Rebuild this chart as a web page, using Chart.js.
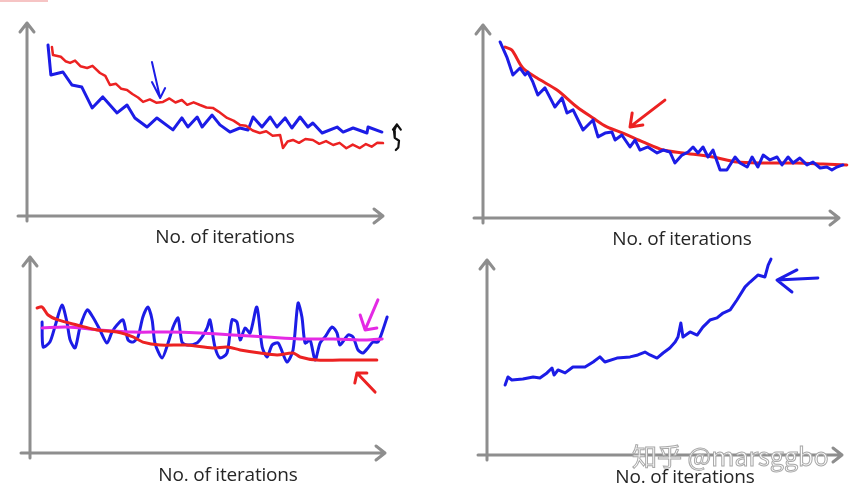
<!DOCTYPE html>
<html>
<head>
<meta charset="utf-8">
<title>Learning curves</title>
<script src="https://cdn.jsdelivr.net/npm/chart.js@4.4.1/dist/chart.umd.min.js"></script>
<style>
  html, body { margin: 0; padding: 0; background: #fff; }
  #page { position: relative; width: 857px; height: 497px; overflow: hidden; }
  canvas { position: absolute; }
  .xlabel {
    position: absolute; width: 220px; margin-left: -110px; text-align: center;
    font-family: "Open Sans", sans-serif; font-size: 19px; color: #262626;
    line-height: 22px; white-space: nowrap; letter-spacing: -0.2px;
  }
  #mark {
    position: absolute; left: 632px; top: 440px; z-index: 5;
    font-family: "Noto Sans CJK SC", sans-serif; font-size: 25px; line-height: 30px;
    color: #fff; -webkit-text-stroke: 1px #a8a8a8; white-space: nowrap;
  }
  #corner { position: absolute; left: 0; top: 0; width: 48px; height: 2px; background: #f6c4c4; }
</style>
</head>
<body>
<div id="page">
  <div id="corner"></div>
  <canvas id="c1" width="428" height="248" style="left:0;top:0"></canvas>
  <canvas id="c2" width="429" height="248" style="left:428px;top:0"></canvas>
  <canvas id="c3" width="428" height="249" style="left:0;top:248px"></canvas>
  <canvas id="c4" width="429" height="249" style="left:428px;top:248px"></canvas>
  <div class="xlabel" style="left:225px;top:225px">No. of iterations</div>
  <div class="xlabel" style="left:682px;top:227px">No. of iterations</div>
  <div class="xlabel" style="left:228px;top:463px">No. of iterations</div>
  <div class="xlabel" style="left:685px;top:465px">No. of iterations</div>
  <div id="mark">知乎 @marsggbo</div>
</div>
<script>
// panel 1 - training cost (blue) vs averaged cost (red)
const p1BlueX = [5.9, 6.7, 10.1, 12.6, 15.4, 18.3, 21.3, 25.3, 28.1, 30.3, 33.7, 36.5, 41.0, 43.5, 45.2, 47.8, 49.2, 52.0, 54.2, 57.0, 59.8, 62.1, 63.5, 66.0, 68.3, 70.2, 72.5, 74.4, 76.7, 78.9, 80.3, 82.9, 87.1, 88.8, 91.6, 95.5, 95.8, 99.7];
const p1BlueY = [88.6, 73.1, 74.6, 67.9, 66.8, 56.0, 61.7, 53.4, 57.5, 50.8, 46.1, 50.8, 44.6, 50.8, 46.1, 51.3, 46.1, 52.3, 47.2, 43.5, 45.6, 44.6, 51.3, 46.1, 51.3, 46.1, 50.8, 45.6, 51.3, 46.1, 48.2, 43.0, 46.1, 43.5, 45.6, 43.0, 46.1, 43.5];
const p1RedX = [7.0, 7.3, 9.5, 10.8, 12.1, 13.5, 15.0, 16.9, 18.4, 20.5, 22.0, 23.3, 25.0, 26.5, 28.1, 29.6, 31.2, 32.6, 34.5, 36.3, 38.2, 40.0, 41.7, 43.5, 45.0, 46.8, 48.6, 50.4, 52.2, 53.8, 55.0, 56.2, 58.0, 59.8, 61.5, 63.4, 65.4, 67.2, 69.0, 71.1, 71.9, 73.2, 74.7, 76.4, 78.2, 80.3, 82.1, 84.0, 86.0, 87.8, 89.7, 91.5, 93.5, 95.2, 96.8, 98.4, 100.0];
const p1RedY = [87.6, 83.4, 82.5, 80.2, 79.3, 80.5, 77.6, 76.7, 77.8, 74.1, 72.6, 67.9, 68.5, 65.9, 65.3, 63.2, 61.4, 59.1, 60.4, 58.7, 59.1, 60.9, 58.8, 60.1, 57.6, 58.9, 57.5, 56.2, 56.0, 54.1, 52.5, 50.8, 49.4, 47.2, 46.8, 44.3, 43.0, 43.9, 41.6, 42.0, 35.2, 38.6, 39.4, 37.9, 39.9, 39.4, 37.4, 38.8, 36.8, 37.9, 35.1, 37.0, 35.2, 37.3, 35.9, 38.0, 37.8];
const p1ArrowX = [35.1, 37.4, 35.1, 37.4, 38.8];
const p1ArrowY = [79.8, 61.1, 69.4, 61.1, 66.3];
const p1MarkX = [102.8, 103.9, 105.0, 103.9, 103.1, 103.3, 104.5, 104.3, 103.6];
const p1MarkY = [44.8, 47.5, 44.8, 47.5, 44.0, 40.5, 39.0, 35.5, 34.2];

// panel 2 - noisy cost (blue) and smoothed cost (red)
const p2BlueX = [4.8, 6.7, 8.4, 10.4, 11.8, 12.6, 14.0, 15.4, 17.4, 20.2, 22.2, 23.6, 25.3, 28.1, 30.9, 32.3, 34.3, 36.2, 37.1, 39.0, 41.3, 42.7, 44.1, 46.3, 48.9, 50.6, 52.5, 53.9, 55.9, 57.6, 59.0, 60.4, 61.8, 63.2, 64.6, 66.6, 68.5, 70.8, 72.2, 74.2, 75.6, 77.2, 78.7, 80.6, 82.6, 84.0, 85.7, 87.1, 89.0, 91.0, 92.7, 94.7, 96.6, 98.0, 99.4, 101.1];
const p2BlueY = [91.2, 83.4, 74.1, 77.7, 74.1, 75.6, 70.5, 63.7, 67.4, 57.5, 62.2, 54.4, 56.0, 45.6, 50.8, 42.0, 44.0, 44.6, 40.4, 43.0, 36.8, 40.4, 35.2, 36.8, 33.7, 35.2, 34.2, 28.5, 32.6, 34.2, 36.8, 33.7, 36.8, 31.6, 35.2, 24.9, 24.9, 31.6, 28.5, 26.4, 31.6, 26.4, 32.6, 30.1, 31.6, 27.5, 31.6, 28.5, 31.1, 27.5, 29.0, 25.9, 26.4, 24.9, 26.4, 27.5];
const p2RedX = [6.2, 8.1, 11.2, 15.2, 20.8, 26.4, 30.9, 34.8, 39.3, 44.9, 50.6, 56.2, 64.6, 71.3, 78.7, 88.2, 95.5, 102.2];
const p2RedY = [88.6, 87.0, 77.7, 72.5, 66.3, 57.5, 51.8, 47.2, 44.0, 39.4, 35.2, 33.7, 31.6, 29.0, 28.5, 28.5, 28.0, 27.5];
const p2ArrowX = [51.1, 41.3, 41.9, 41.3, 44.9];
const p2ArrowY = [61.1, 47.2, 54.4, 47.2, 48.2];

// panel 3 - oscillating cost (blue), small-rate cost (red), averaged cost (magenta)
const p3BlueX = [3.4, 3.7, 5.6, 7.0, 9.0, 10.4, 11.3, 12.7, 14.1, 16.1, 17.7, 19.7, 21.7, 23.1, 24.5, 26.2, 27.6, 29.0, 30.4, 31.8, 33.2, 34.4, 35.2, 37.2, 38.9, 40.3, 41.7, 42.8, 44.2, 47.0, 48.5, 49.9, 50.7, 52.1, 53.5, 55.5, 56.9, 58.3, 59.2, 60.6, 62.0, 63.9, 65.4, 66.8, 68.2, 69.9, 72.4, 74.1, 75.5, 76.6, 77.5, 78.9, 80.3, 81.7, 83.1, 85.1, 86.5, 87.3, 89.6, 91.0, 92.4, 93.8, 95.2, 96.6, 98.0, 99.4, 100.6];
const p3BlueY = [66.8, 54.1, 56.6, 64.3, 75.5, 66.8, 57.7, 53.6, 64.3, 73.0, 69.4, 62.8, 56.1, 61.7, 65.3, 67.9, 57.7, 56.6, 59.2, 69.4, 74.5, 67.9, 56.1, 48.5, 56.1, 64.3, 68.9, 56.6, 55.1, 56.1, 59.2, 63.8, 67.9, 54.1, 48.5, 51.0, 67.9, 66.8, 57.7, 63.8, 61.2, 74.5, 54.1, 49.0, 55.1, 56.1, 46.4, 52.6, 76.5, 69.4, 56.1, 57.7, 47.4, 56.1, 59.2, 64.3, 61.2, 55.1, 60.2, 59.2, 52.6, 51.0, 53.6, 56.6, 56.6, 62.8, 69.4];
const p3RedX = [2.0, 3.4, 5.1, 7.9, 13.2, 18.9, 24.5, 29.0, 31.8, 36.6, 44.2, 51.5, 55.5, 59.2, 64.8, 69.6, 74.1, 76.1, 80.8, 87.3, 97.7];
const p3RedY = [74.0, 74.5, 70.4, 67.9, 65.3, 62.8, 61.7, 59.2, 56.6, 55.1, 55.1, 53.6, 54.1, 52.6, 51.0, 50.0, 51.0, 49.0, 47.4, 47.4, 47.4];
const p3PinkX = [3.4, 10.4, 19.7, 29.0, 38.6, 47.9, 57.2, 66.8, 76.1, 85.4, 94.9, 99.2];
const p3PinkY = [63.8, 64.3, 62.8, 61.7, 61.7, 61.2, 60.2, 59.2, 58.2, 58.2, 57.7, 58.2];
const p3PinkArrowX = [98.0, 94.4, 93.0, 94.4, 97.7];
const p3PinkArrowY = [78.1, 62.8, 70.4, 62.8, 63.8];
const p3RedArrowX = [97.2, 92.1, 91.5, 92.1, 94.9];
const p3RedArrowY = [31.1, 40.8, 35.7, 40.8, 40.8];

// panel 4 - diverging cost
const p4BlueX = [5.1, 5.9, 7.0, 10.1, 13.0, 14.9, 16.9, 18.3, 18.9, 20.0, 22.0, 24.2, 27.6, 29.9, 31.8, 33.2, 36.6, 40.3, 42.5, 44.5, 45.9, 47.9, 49.6, 51.5, 53.0, 53.8, 54.6, 55.2, 57.2, 59.2, 60.8, 62.8, 64.8, 66.5, 68.5, 70.4, 72.7, 74.1, 76.3, 78.3, 79.2, 80.0];
const p4BlueY = [35.9, 40.0, 38.5, 39.0, 40.0, 39.5, 42.1, 44.6, 41.0, 43.6, 42.1, 45.1, 45.1, 47.7, 50.3, 47.7, 49.7, 50.3, 51.3, 52.8, 51.3, 49.7, 52.3, 54.9, 57.9, 60.5, 67.7, 60.5, 63.1, 61.5, 65.6, 69.2, 70.3, 72.8, 74.4, 79.5, 86.2, 88.7, 92.3, 91.3, 97.4, 100.5];
const p4ArrowX = [93.2, 81.7, 87.3, 81.7, 85.9];
const p4ArrowY = [90.8, 89.7, 94.9, 89.7, 83.6];

const BLUE = '#1c1ce6';
const RED = '#ec2222';
const PINK = '#e42ae4';
const AXIS = '#8e8e8e';

function pts(xs, ys) {
  return xs.map((x, i) => ({ x: x, y: ys[i] }));
}

function line(xs, ys, color, width, tension) {
  return {
    data: pts(xs, ys),
    borderColor: color,
    borderWidth: width,
    tension: tension || 0,
    pointRadius: 0,
    fill: false,
    clip: false,
    borderJoinStyle: 'round',
    borderCapStyle: 'round'
  };
}

// hand-drawn style axes with open arrow heads
const arrowAxes = {
  id: 'arrowAxes',
  beforeDatasetsDraw(chart) {
    const a = chart.chartArea;
    const ctx = chart.ctx;
    const h = 9;
    ctx.save();
    ctx.strokeStyle = AXIS;
    ctx.lineWidth = 3;
    ctx.lineCap = 'round';
    ctx.lineJoin = 'round';
    ctx.beginPath();
    ctx.moveTo(a.left, a.bottom + 5);
    ctx.lineTo(a.left, a.top);
    ctx.moveTo(a.left - 7, a.top + h);
    ctx.lineTo(a.left, a.top);
    ctx.lineTo(a.left + 7, a.top + h);
    ctx.moveTo(a.left - 9, a.bottom);
    ctx.lineTo(a.right, a.bottom);
    ctx.moveTo(a.right - h, a.bottom - 7);
    ctx.lineTo(a.right, a.bottom);
    ctx.lineTo(a.right - h, a.bottom + 7);
    ctx.stroke();
    ctx.restore();
  }
};

function makeChart(id, pad, datasets) {
  return new Chart(document.getElementById(id), {
    type: 'line',
    data: { datasets: datasets },
    options: {
      responsive: false,
      animation: false,
      layout: { padding: pad },
      plugins: { legend: { display: false }, tooltip: { enabled: false } },
      scales: {
        x: { type: 'linear', min: 0, max: 100, display: false },
        y: { type: 'linear', min: 0, max: 100, display: false }
      }
    },
    plugins: [arrowAxes]
  });
}

makeChart('c1', { left: 27, top: 23, right: 45, bottom: 32 }, [
  line(p1RedX, p1RedY, RED, 2.5),
  line(p1BlueX, p1BlueY, BLUE, 3),
  line(p1ArrowX, p1ArrowY, BLUE, 2),
  line(p1MarkX, p1MarkY, '#111', 2.2)
]);

makeChart('c2', { left: 55, top: 25, right: 18, bottom: 30 }, [
  line(p2BlueX, p2BlueY, BLUE, 3),
  line(p2RedX, p2RedY, RED, 3, 0.3),
  line(p2ArrowX, p2ArrowY, RED, 3)
]);

makeChart('c3', { left: 30, top: 9, right: 43, bottom: 44 }, [
  line(p3RedX, p3RedY, RED, 3, 0.3),
  line(p3PinkX, p3PinkY, PINK, 3, 0.3),
  line(p3BlueX, p3BlueY, BLUE, 3, 0.25),
  line(p3PinkArrowX, p3PinkArrowY, PINK, 3),
  line(p3RedArrowX, p3RedArrowY, RED, 3)
]);

makeChart('c4', { left: 59, top: 12, right: 15, bottom: 42 }, [
  line(p4BlueX, p4BlueY, BLUE, 3),
  line(p4ArrowX, p4ArrowY, BLUE, 3)
]);
</script>
</body>
</html>
